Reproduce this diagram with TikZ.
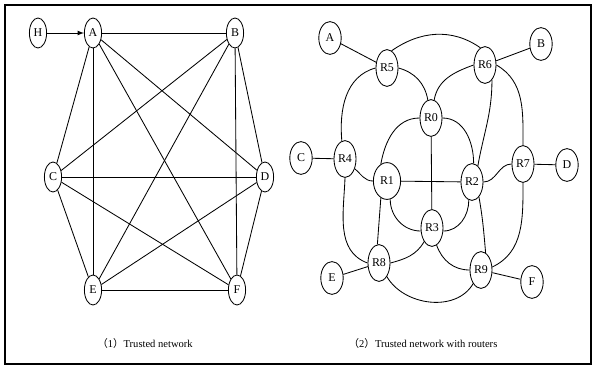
\documentclass[tikz,border=0pt]{standalone}
\usepackage{fontspec}
\setmainfont{Liberation Serif}
\newfontfamily\cjk{Noto Sans CJK SC}
\usetikzlibrary{arrows,shapes}

\begin{document}
\begin{tikzpicture}[x=0.025cm, y=-0.025cm, line width=0.6pt,
	host/.style={ellipse, draw, inner sep=0pt, minimum width=0.43cm, minimum height=0.75cm, font=\fontsize{8.5}{10}\selectfont},
	site/.style={ellipse, draw, inner sep=0pt, minimum width=0.56cm, minimum height=0.82cm, font=\fontsize{8.5}{10}\selectfont},
	router/.style={ellipse, draw, inner sep=0pt, minimum width=0.55cm, minimum height=0.92cm, font=\fontsize{8.5}{10}\selectfont},
	caption/.style={font=\fontsize{7.5}{9}\selectfont}]
		\useasboundingbox (0,0) rectangle (595,369);
		\draw[line width=1.2pt] (5,5) rectangle (591,364);

		% (1) trusted network
		\path (38, 33) node[host] (h) {H}
  		(93, 33) node[host] (a) {A}
  		(235, 33) node[host] (b) {B}
  		(53, 177) node[host] (c) {C}
  		(265, 177) node[host] (d) {D}
  		(93, 290) node[host] (e) {E}
  		(237, 290) node[host] (f) {F}
  		(145, 343) node[caption] (cap1) {{\cjk （}1{\cjk ）}Trusted network};

		\draw[-latex] (h) -- (a);
		\draw (a) -- (b);
		\draw (a) -- (c);
		\draw (a) -- (d);
		\draw (a) -- (e);
		\draw (a) -- (f);
		\draw (b) -- (c);
		\draw (b) -- (d);
		\draw (b) -- (e);
		\draw (b) -- (f);
		\draw (c) -- (d);
		\draw (c) -- (e);
		\draw (c) -- (f);
		\draw (d) -- (e);
		\draw (d) -- (f);
		\draw (e) -- (f);

		% (2) trusted network with routers
		\path (330, 38) node[site] (a2) {A}
  		(541, 44) node[site] (b2) {B}
  		(301, 158) node[site] (c2) {C}
  		(567, 165) node[site] (d2) {D}
  		(332, 278) node[site] (e2) {E}
  		(532, 282) node[site] (f2) {F}
  		(431, 118) node[router] (r0) {R0}
  		(387, 181) node[router, minimum width=0.68cm] (r1) {R1}
  		(472, 182) node[router] (r2) {R2}
  		(432, 228) node[router] (r3) {R3}
  		(345, 159) node[router] (r4) {R4}
  		(387, 68) node[router] (r5) {R5}
  		(485, 65) node[router] (r6) {R6}
  		(523, 164) node[router] (r7) {R7}
  		(379, 263) node[router] (r8) {R8}
  		(481, 270) node[router] (r9) {R9}
  		(423, 343) node[caption] (cap2) {{\cjk （}2{\cjk ）}Trusted network with routers};

		\draw (a2) -- (r5);
		\draw (b2) -- (r6);
		\draw (c2) -- (r4);
		\draw (r7) -- (d2);
		\draw (e2) -- (r8);
		\draw (r9) -- (f2);
		\draw (r5.75) to[out=35, in=145] (r6.105);
		\draw (r5.west) to[out=195, in=95] (r4.100);
		\draw (r5.east) to[out=-15, in=100] (r0.100);
		\draw (r6.west) to[out=200, in=80] (r0.80);
		\draw (r6.-65) to[out=-90, in=80] (r2.70);
		\draw (r6.east) to[out=-30, in=90] (r7.north);
		\draw (r0.west) to[out=180, in=80] (r1.110);
		\draw (r0.east) to[out=0, in=90] (r2.85);
		\draw (r0) -- (r3);
		\draw (r4.-45) to[out=-40, in=180] (r1.west);
		\draw (r1) -- (r2);
		\draw (r2.east) to[out=0, in=180] (r7.west);
		\draw (r4.south) to[out=-92, in=160] (r8.west);
		\draw (r1.-110) -- (r8.95);
		\draw (r1.-80) to[out=-90, in=180] (r3.195);
		\draw (r2.-100) to[out=-90, in=0] (r3.-15);
		\draw (r2.-65) to[out=-80, in=95] (r9.75);
		\draw (r7.south) to[out=-90, in=25] (r9.15);
		\draw (r3.-120) to[out=-120, in=15] (r8.east);
		\draw (r3.-75) to[out=-70, in=180] (r9.west);
		\draw (r8.-60) to[out=-60, in=-120] (r9.-120);
	\end{tikzpicture}
\end{document}
